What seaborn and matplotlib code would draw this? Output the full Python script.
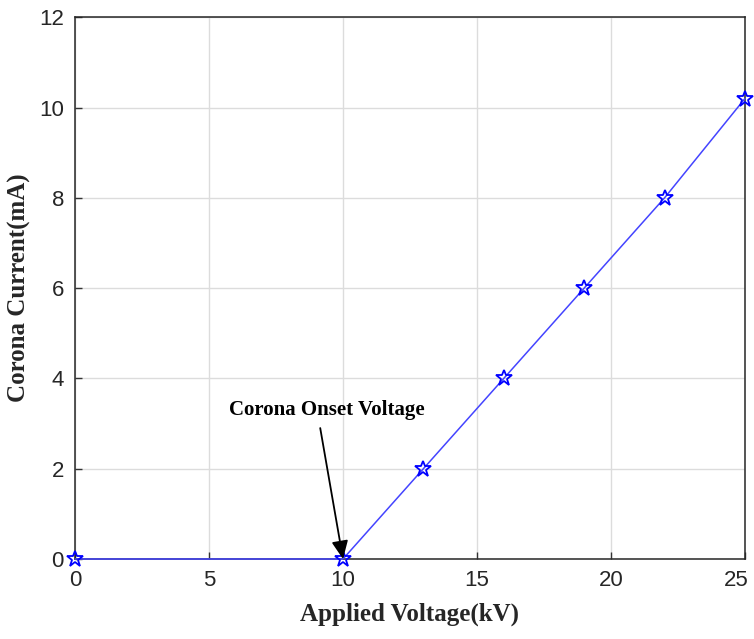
import matplotlib
matplotlib.use("Agg")
import matplotlib.pyplot as plt
import matplotlib.transforms as mtransforms
import seaborn as sns
import pandas as pd

voltage_kv = [0, 10, 13, 16, 19, 22, 25]
current_ma = [0, 0, 2, 4, 6, 8, 10.2]
x_ticks = [0, 5, 10, 15, 20, 25]
y_ticks = [0, 2, 4, 6, 8, 10, 12]

sns.set_style("whitegrid")
plt.rcParams['font.family'] = ['Liberation Sans Narrow', 'Liberation Sans', 'DejaVu Sans']

df = pd.DataFrame({"Voltage": voltage_kv, "Current": current_ma})

fig = plt.figure(figsize=(7.54, 6.39), dpi=100)
ax = fig.add_axes([0.0995, 0.1252, 0.8885, 0.8478])

sns.lineplot(data=df, x="Voltage", y="Current", ax=ax, color="#4444ff",
             linewidth=1.1, marker="*", markersize=12, markerfacecolor="none",
             markeredgecolor="#0000ff", markeredgewidth=1.3, zorder=5, clip_on=False)

ax.set_xlim(0, 25)
ax.set_ylim(0, 12)
ax.set_xticks(x_ticks)
ax.set_yticks(y_ticks)
ax.tick_params(direction="in", length=5, width=1, colors="#333333", labelsize=16,
               top=False, right=False, bottom=True, left=True, pad=8)
for lab in ax.get_xticklabels() + ax.get_yticklabels():
    lab.set_color("#262626")
ax.grid(True, color="#dcdcdc", linewidth=1)
for s in ax.spines.values():
    s.set_color("#262626")
    s.set_linewidth(1.1)

# keep the last x tick label inside the figure
last = ax.get_xticklabels()[-1]
last.set_transform(last.get_transform() +
                   mtransforms.ScaledTranslation(-6 / 72, 0, fig.dpi_scale_trans))

ax.set_xlabel("Applied Voltage(kV)", fontfamily="Liberation Serif", fontweight="bold",
              fontsize=18, color="#262626", labelpad=8)
ax.set_ylabel("Corona Current(mA)", fontfamily="Liberation Serif", fontweight="bold",
              fontsize=18, color="#262626", labelpad=6)

ax.text(9.4, 3.3, "Corona Onset Voltage", ha="center", va="center",
        fontfamily="Liberation Serif", fontweight="bold", fontsize=15, color="black")
ax.annotate("", xy=(10, 0), xytext=(9.15, 2.9),
            arrowprops=dict(arrowstyle="-|>,head_length=1.1,head_width=0.5",
                            color="black", lw=1.3, shrinkA=0, shrinkB=0),
            zorder=6)

fig.savefig("out.png", dpi=100)
